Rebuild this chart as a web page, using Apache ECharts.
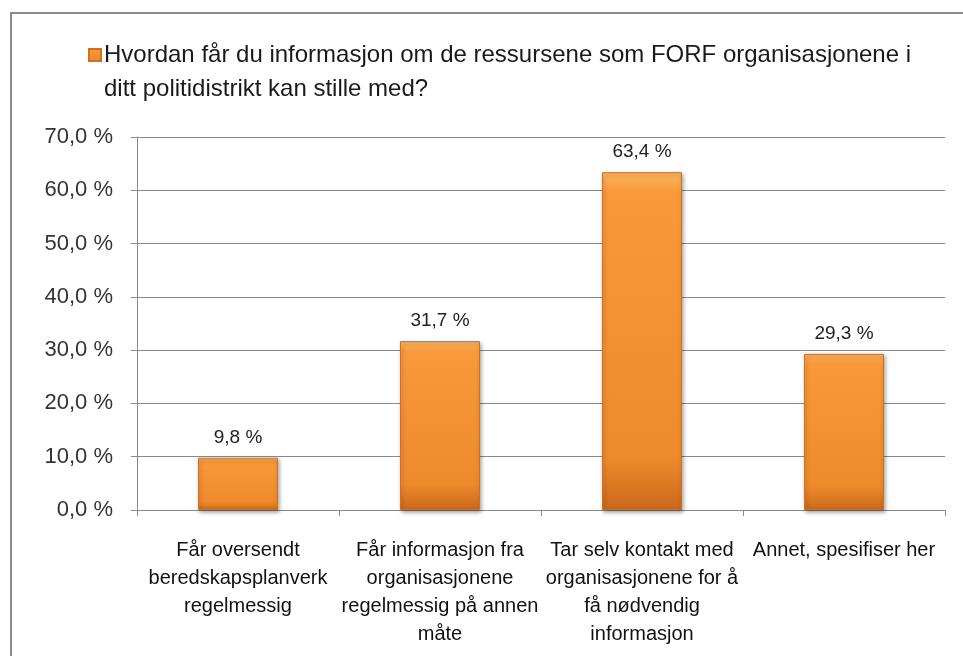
<!DOCTYPE html>
<html>
<head>
<meta charset="utf-8">
<script src="https://cdn.jsdelivr.net/npm/echarts@6/dist/echarts.min.js"></script>
<style>
  html, body { margin: 0; padding: 0; background: #fff; }
  #main { width: 963px; height: 656px; }
</style>
</head>
<body>
<div id="main"></div>
<script>
const seriesName = "Hvordan får du informasjon om de ressursene som FORF organisasjonene i";
const seriesNameRest = "ditt politidistrikt kan stille med?";
const categories = [
  "Får oversendt\nberedskapsplanverk\nregelmessig",
  "Får informasjon fra\norganisasjonene\nregelmessig på annen\nmåte",
  "Tar selv kontakt med\norganisasjonene for å\nfå nødvendig\ninformasjon",
  "Annet, spesifiser her"
];
const values = [9.8, 31.7, 63.4, 29.3];

const FONT = "'Liberation Sans', Arial, sans-serif";
const pct = (v) => v.toFixed(1).replace(".", ",") + " %";

const chart = echarts.init(document.getElementById("main"), null, { renderer: "canvas" });

const barColor = new echarts.graphic.LinearGradient(0, 0, 0, 1, [
  { offset: 0, color: "#FDB660" },
  { offset: 0.06, color: "#F9993A" },
  { offset: 0.85, color: "#EE8A2C" },
  { offset: 1, color: "#C9681B" }
]);

const option = {
  animation: false,
  backgroundColor: "#fff",
  graphic: [
    {
      type: "rect",
      shape: { x: 11, y: 13, width: 970, height: 660 },
      style: { fill: "none", stroke: "#8a8a8a", lineWidth: 2 }
    }
  ],
  title: {
    text: seriesNameRest,
    left: 99,
    top: 72,
    textStyle: { fontFamily: FONT, fontSize: 24, fontWeight: "normal", color: "#1a1a1a" }
  },
  legend: {
    left: 83,
    top: 38,
    icon: "rect",
    itemWidth: 12,
    itemHeight: 12,
    itemGap: 0,
    data: [seriesName],
    textStyle: { fontFamily: FONT, fontSize: 24, color: "#1a1a1a", padding: [0, 0, 0, -2] }
  },
  grid: { left: 137, right: 18, top: 137, bottom: 146, containLabel: false },
  xAxis: {
    type: "category",
    data: categories,
    axisLine: { lineStyle: { color: "#8a8a8a", width: 1 } },
    axisTick: { show: true, length: 6, lineStyle: { color: "#8a8a8a" } },
    axisLabel: {
      interval: 0,
      margin: 26,
      fontFamily: FONT,
      fontSize: 20,
      lineHeight: 28,
      color: "#111"
    }
  },
  yAxis: {
    type: "value",
    min: 0,
    max: 70,
    interval: 10,
    axisLine: { show: true, lineStyle: { color: "#8a8a8a", width: 1 } },
    axisTick: { show: true, length: 6, lineStyle: { color: "#8a8a8a" } },
    splitLine: { lineStyle: { color: "#8a8a8a", width: 1 } },
    axisLabel: {
      margin: 24,
      fontFamily: FONT,
      fontSize: 22,
      color: "#333",
      formatter: (v) => pct(v)
    }
  },
  series: [
    {
      name: seriesName,
      type: "bar",
      data: values,
      barWidth: 80,
      itemStyle: {
        color: barColor,
        borderColor: "#D07020",
        borderWidth: 1,
        shadowColor: "rgba(0,0,0,0.35)",
        shadowBlur: 4,
        shadowOffsetX: 1,
        shadowOffsetY: 2
      },
      label: {
        show: true,
        position: "top",
        distance: 11,
        fontFamily: FONT,
        fontSize: 19,
        color: "#222",
        formatter: (p) => pct(p.value)
      }
    }
  ]
};

chart.setOption(option);
</script>
</body>
</html>
